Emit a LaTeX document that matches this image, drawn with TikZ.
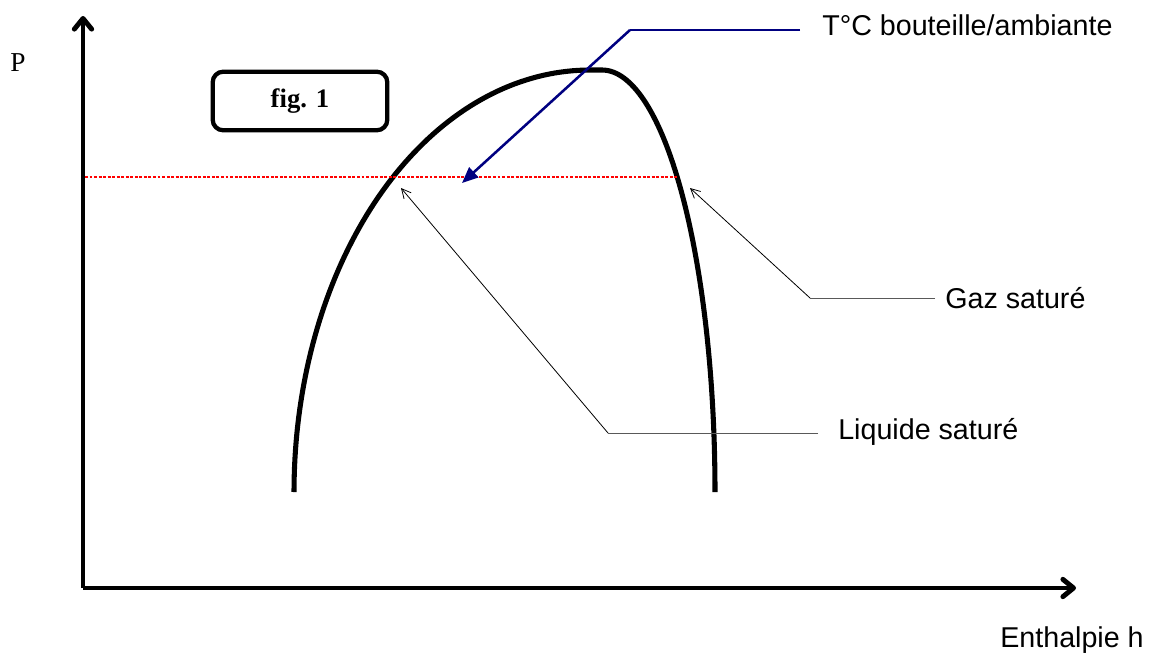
\documentclass[tikz,border=0pt]{standalone}
\usepackage{fontspec}
\setmainfont{Liberation Serif}
\newfontfamily\arialf{Liberation Sans}
\usetikzlibrary{arrows.meta}
\definecolor{navyb}{RGB}{0,0,128}
\tikzset{
  x=0.75pt, y=-0.75pt,
  axisline/.style={line width=3.7pt, -{Straight Barb[length=8pt,width=13pt,line join=round,line cap=round]}},
  curveline/.style={line width=3.8pt, line join=round},
  isobar/.style={red, line width=2pt, dash pattern=on 2.2pt off 1.2pt},
  callout/.style={navyb, line width=1.9pt},
  calloutarrow/.style={navyb, line width=1.9pt, -{Triangle[length=12pt,width=10pt]}},
  leader/.style={black!65, line width=0.75pt},
  leaderarrow/.style={black, line width=0.6pt, -{Straight Barb[length=7pt,width=7pt]}},
  sanslabel/.style={font=\arialf\fontsize{21.5}{25}\selectfont, inner sep=0pt, anchor=west},
  figbox/.style={draw, line width=3.2pt, rounded corners=8pt, minimum width=131pt, minimum height=44pt, font=\bfseries\fontsize{20}{24}\selectfont}
}
\begin{document}
\begin{tikzpicture}
\useasboundingbox (0,0) rectangle (1153,657);
% axes
\coordinate (origin) at (83,588);
\coordinate (ytop) at (83,16);
\coordinate (xend) at (1076,588);
\draw[axisline] (origin) -- (ytop);
\draw[axisline] (origin) -- (xend);
\node[font=\fontsize{20.5}{24}\selectfont, inner sep=0pt] (P) at (18,63) {P};
\node[sanslabel, anchor=center] (H) at (1072,640) {Enthalpie h};
% fig box
\node[figbox] (fig) at (300,101) {fig. 1};
% saturation dome
\draw[curveline] plot[domain=180:90, samples=80] ({590+296*cos(\x)},{492-422*sin(\x)})
  -- plot[domain=90:0, samples=80] ({602+113*cos(\x)},{492-422*sin(\x)});
% isobar
\coordinate (isoL) at (85,177);
\coordinate (isoR) at (677,177);
\draw[isobar] (isoL) -- (isoR);
% T callout
\node[sanslabel] (T) at (822,25) {T°C bouteille/ambiante};
\coordinate (tEnd) at (800,30);
\coordinate (tKnee) at (630,30);
\coordinate (tTip) at (462,183);
\draw[callout] (tEnd) -- (tKnee);
\draw[calloutarrow] (tKnee) -- (tTip);
% Gaz saturé
\node[sanslabel] (G) at (945,298) {Gaz saturé};
\coordinate (gEnd) at (935,298);
\coordinate (gKnee) at (810,298);
\coordinate (gTip) at (690,188);
\draw[leader] (gEnd) -- (gKnee);
\draw[leaderarrow] (gKnee) -- (gTip);
% Liquide saturé
\node[sanslabel] (L) at (838,432) {Liquide saturé};
\coordinate (lEnd) at (818,433);
\coordinate (lKnee) at (608,433);
\coordinate (lTip) at (401,188);
\draw[leader] (lEnd) -- (lKnee);
\draw[leaderarrow] (lKnee) -- (lTip);
\end{tikzpicture}
\end{document}
